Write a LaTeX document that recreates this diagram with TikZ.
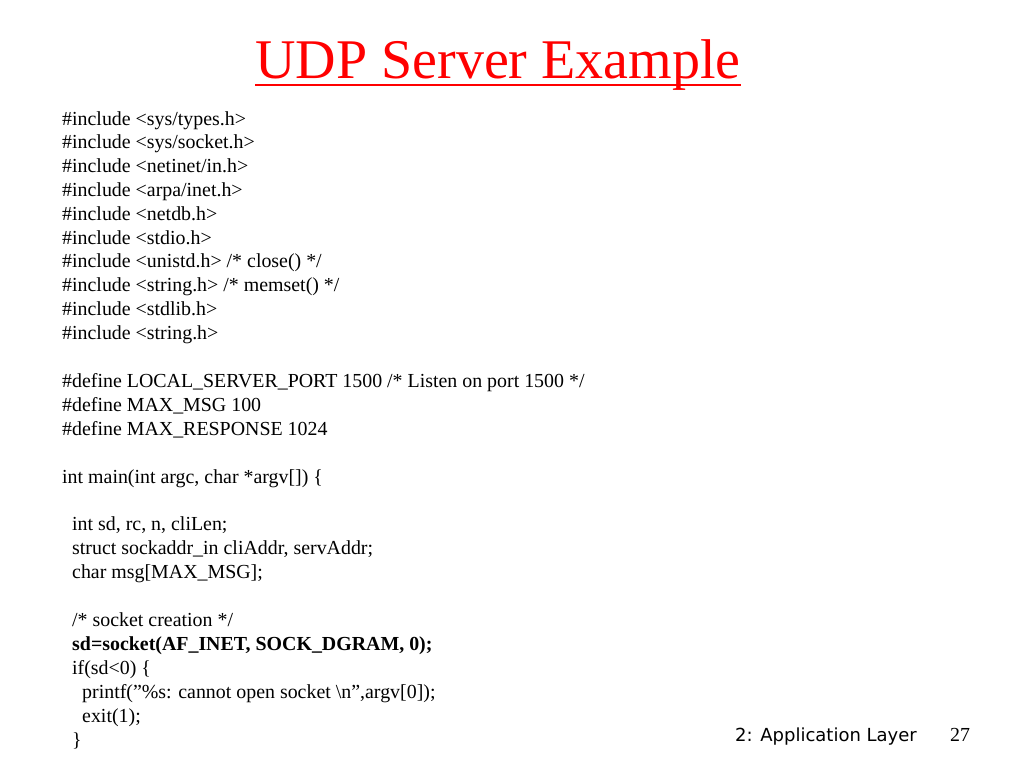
\documentclass[tikz,border=0pt]{standalone}
\usepackage{fontspec}
\setmainfont{Liberation Serif}
\newfontfamily\footfont{DejaVu Sans}
\begin{document}
\begin{tikzpicture}[x=1pt,y=-1pt,
 code/.style={anchor=base west,inner sep=0pt,font=\fontsize{19.9}{22}\selectfont}]
\useasboundingbox[fill=white] (0,0) rectangle (1024,768);
\node[anchor=base,inner sep=0pt,text=red,font=\fontsize{56}{60}\selectfont] (title) at (498,78) {UDP Server Example};
\draw[red,line width=2pt] (title.base west)++(0,7) -- ([yshift=-7pt]title.base east);
\foreach \t [count=\i] in {{\#include <sys/types.h>},{\#include <sys/socket.h>},{\#include <netinet/in.h>},{\#include <arpa/inet.h>},{\#include <netdb.h>},{\#include <stdio.h>},{\#include <unistd.h> /* close() */},{\#include <string.h> /* memset() */},{\#include <stdlib.h>},{\#include <string.h>}}
  \node[code] (inc\i) at (62,{125+(\i-1)*23.8}) {\t};
\node[code] (d1) at (62,387) {\#define LOCAL\_SERVER\_PORT 1500 /* Listen on port 1500 */};
\node[code] (d2) at (62,411) {\#define MAX\_MSG 100};
\node[code] (d3) at (62,435) {\#define MAX\_RESPONSE 1024};
\node[code] (m) at (62,483) {int main(int argc, char *argv[]) \{};
\node[code] (v1) at (72,530) {int sd, rc, n, cliLen;};
\node[code] (v2) at (72,554) {struct sockaddr\_in cliAddr, servAddr;};
\node[code] (v3) at (72,578) {char msg[MAX\_MSG];};
\node[code] (c1) at (72,626) {/* socket creation */};
\node[code,font=\fontsize{19.9}{22}\selectfont\bfseries] (c2) at (72,650) {sd=socket(AF\_INET, SOCK\_DGRAM, 0);};
\node[code] (c3) at (72,674) {if(sd<0) \{};
\node[code] (c4) at (82,698) {printf(\char"22\%s: cannot open socket \textbackslash n\char"22,argv[0]);};
\node[code] (c5) at (82,722) {exit(1);};
\node[code] (c6) at (72,746) {\}};
\node[anchor=base west,inner sep=0pt,font=\footfont\fontsize{18}{20}\selectfont] (foot) at (735,741) {2: Application Layer};
\node[anchor=base west,inner sep=0pt,font=\fontsize{19.9}{22}\selectfont] (pg) at (950,741) {27};
\end{tikzpicture}
\end{document}
